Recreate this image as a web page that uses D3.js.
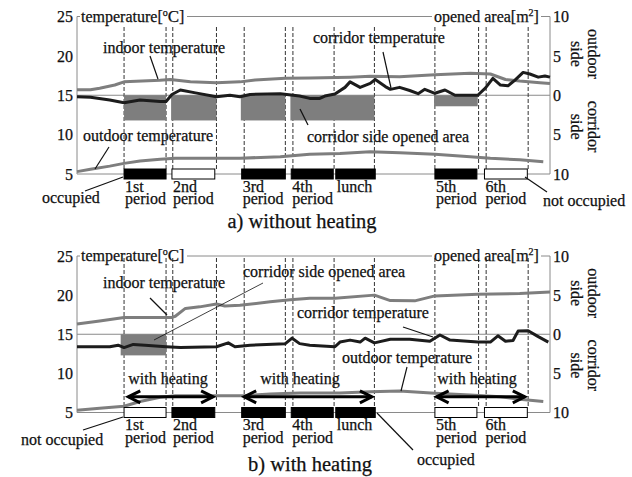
<!DOCTYPE html>
<html>
<head>
<meta charset="utf-8">
<script src="https://cdn.jsdelivr.net/npm/d3@7"></script>
<style>
  body { margin: 0; background: #fff; }
  svg text { font-family: "Liberation Serif", Tinos, "Times New Roman", serif; font-size: 16px; fill: #111;
             stroke: #111; stroke-width: 0.25px; }
</style>
</head>
<body>
<div id="chart"></div>
<script>
// x is minutes after the logger started (about 8:00), temps in degC, opened area in m2
var periodNames = [["1st", "period"], ["2nd", "period"], ["3rd", "period"], ["4th", "period"], ["lunch"], ["5th", "period"], ["6th", "period"]];
var periodStart = [56, 113, 196, 255, 308, 426, 485];
var periodEnd   = [106, 164, 248, 305, 355, 476, 536];
var dividers    = [56, 106, 114, 166, 199, 248, 257, 306, 354, 426, 478, 487, 537];
var occupiedA   = [1, 0, 1, 1, 1, 1, 0];
var occupiedB   = [0, 1, 1, 1, 1, 0, 0];

var tempTicks = [25, 20, 15, 10, 5];
var areaTicks = [10, 5, 0, -5, -10];   // negative = corridor side

// a) without heating
var indoorA = [[0,15.7],[16,15.7],[27,15.9],[45,16.3],[56,16.7],[99,16.9],[111,17.0],[135,16.7],[166,16.6],
  [194,16.7],[212,16.95],[248,17.15],[277,17.2],[325,17.3],[349,17.4],[384,17.35],[426,17.6],[468,17.8],
  [492,17.7],[510,17.0],[527,16.8],[551,16.6],[563,16.5]];
var corridorA = [[0,14.8],[16,14.75],[39,14.4],[56,14.05],[75,14.4],[99,14.2],[106,14.2],[113,15.1],[123,15.67],
  [141,15.3],[166,14.8],[182,15.0],[194,14.8],[206,15.1],[242,15.2],[265,14.9],[277,14.6],[289,14.6],[295,14.9],
  [307,15.16],[319,16.0],[325,16.7],[337,16.0],[349,16.5],[355,17.0],[367,16.1],[373,15.75],[384,16.0],[396,15.6],
  [406,15.2],[414,15.75],[426,15.25],[438,15.67],[450,15.0],[477,15.0],[486,15.9],[495,17.15],[504,16.3],
  [513,16.2],[521,16.9],[531,17.9],[539,17.7],[549,17.3],[557,17.45],[563,17.3]];
var outdoorA = [[0,5.3],[16,5.6],[39,6.0],[56,6.35],[75,6.65],[99,6.87],[117,7.0],[194,7.0],[242,7.2],[277,7.5],
  [313,7.6],[349,7.83],[384,7.7],[426,7.5],[468,7.2],[492,7.0],[527,6.8],[555,6.55]];
var openStartA = [56, 112, 195, 254, 425];
var openEndA   = [106, 166, 248, 354, 477];
var openAreaA  = [-3.2, -3.2, -3.2, -3.2, -1.4];

// b) with heating
var indoorB = [[0,16.3],[27,16.7],[56,17.15],[113,17.15],[117,17.3],[129,18.3],[146,18.5],[166,18.86],[176,18.6],
  [194,18.7],[230,19.15],[254,19.4],[277,19.6],[307,19.6],[354,20.0],[373,19.3],[402,19.27],[426,19.9],
  [477,20.1],[527,20.2],[563,20.4]];
var corridorB = [[0,13.4],[39,13.4],[49,13.6],[56,13.3],[67,13.7],[81,13.6],[106,13.4],[123,13.3],[166,13.4],
  [180,13.9],[188,13.4],[206,13.6],[248,13.8],[256,14.5],[265,13.8],[277,13.6],[307,13.4],[313,14.0],[325,14.25],
  [337,14.0],[343,14.5],[354,13.9],[373,14.35],[396,14.35],[420,14.1],[432,14.9],[444,14.25],[477,14.0],
  [492,14.0],[501,14.8],[510,14.1],[519,14.2],[525,15.4],[537,15.45],[549,14.7],[561,14.0]];
var outdoorB = [[0,5.3],[27,5.55],[56,5.8],[75,6.4],[99,6.95],[117,7.15],[199,7.15],[230,7.36],[265,7.5],[313,7.5],
  [349,7.65],[384,7.75],[426,7.45],[468,7.23],[504,7.0],[527,6.7],[555,6.4]];
var openStartB = [52];
var openEndB   = [106];
var openAreaB  = [-2.7];
var heatStart = [61, 199, 428];
var heatEnd   = [162, 351, 533];

var W = 632, H = 477;
var FONT = "'Liberation Serif', Tinos, 'Times New Roman', serif";
var svg = d3.select("#chart").append("svg").attr("width", W).attr("height", H)
  .attr("font-family", FONT);
var x = d3.scaleLinear().domain([0, 563]).range([77, 550]);

var GRAY = "#7e7e7e", DARK = "#1c1c1c", FRAME = "#8a8a8a";

function leader(g, x1, y1, x2, y2, w) {
  g.append("line").attr("x1", x1).attr("y1", y1).attr("x2", x2).attr("y2", y2)
    .attr("stroke", "#111").attr("stroke-width", w || 1.2);
}

function label(g, txt, tx, ty, anchor, size) {
  return g.append("text").attr("x", tx).attr("y", ty)
    .attr("text-anchor", anchor || "start")
    .style("font-size", (size || 16) + "px").text(txt);
}

function drawPanel(cfg) {
  var g = svg.append("g");
  var y = d3.scaleLinear().domain([5, 25]).range([cfg.bottom, cfg.top]);
  var ya = d3.scaleLinear().domain([-10, 10]).range([cfg.bottom, cfg.top]);
  var line = d3.line().x(function(d) { return x(d[0]); }).y(function(d) { return y(d[1]); });

  // 0 m2 / 15 degC reference line
  g.append("line").attr("x1", x(0)).attr("x2", x(563)).attr("y1", ya(0)).attr("y2", ya(0))
    .attr("stroke", FRAME).attr("stroke-width", 1);

  // period boundaries
  g.selectAll(".div").data(dividers).enter().append("line")
    .attr("x1", function(d) { return x(d); }).attr("x2", function(d) { return x(d); })
    .attr("y1", cfg.dashTop).attr("y2", y(5) - 5)
    .attr("stroke", "#333").attr("stroke-width", 1).attr("stroke-dasharray", "4,2");

  // opened area bars (corridor side goes down)
  g.selectAll(".open").data(cfg.openArea).enter().append("rect")
    .attr("x", function(d, i) { return x(cfg.openStart[i]); })
    .attr("width", function(d, i) { return x(cfg.openEnd[i]) - x(cfg.openStart[i]); })
    .attr("y", function(d) { return Math.min(ya(0), ya(d)); })
    .attr("height", function(d) { return Math.abs(ya(d) - ya(0)); })
    .attr("fill", GRAY);

  // frame
  g.append("line").attr("x1", x(0)).attr("x2", x(563)).attr("y1", y(5)).attr("y2", y(5)).attr("stroke", FRAME);
  g.append("path").attr("d", "M" + x(0) + "," + y(5) + "V" + y(25) + "H" + 80).attr("fill", "none").attr("stroke", FRAME);
  g.append("path").attr("d", "M" + 187 + "," + y(25) + "H" + 432).attr("fill", "none").attr("stroke", FRAME);
  g.append("path").attr("d", "M" + 541 + "," + y(25) + "H" + x(563) + "V" + y(5)).attr("fill", "none").attr("stroke", FRAME);

  // temperature lines
  [[cfg.outdoor, GRAY], [cfg.indoor, GRAY], [cfg.corridor, DARK]].forEach(function(s) {
    g.append("path").datum(s[0]).attr("d", line).attr("fill", "none")
      .attr("stroke", s[1]).attr("stroke-width", 3).attr("stroke-linejoin", "round");
  });

  // axes
  var ax = g.append("g").attr("transform", "translate(" + x(0) + ",0)")
    .call(d3.axisLeft(y).tickValues(tempTicks).tickSize(0).tickPadding(4));
  ax.select(".domain").remove();
  var axr = g.append("g").attr("transform", "translate(" + x(563) + ",0)")
    .call(d3.axisRight(ya).tickValues(areaTicks).tickSize(0).tickPadding(3).tickFormat(function(d) { return Math.abs(d); }));
  axr.select(".domain").remove();
  g.selectAll(".tick text").attr("fill", "#111");

  var t1 = g.append("text").attr("x", 81).attr("y", y(25) + 5);
  t1.append("tspan").text("temperature[");
  t1.append("tspan").attr("dy", -6).style("font-size", "10px").text("o");
  t1.append("tspan").attr("dy", 6).style("font-size", "17px").text("C");
  t1.append("tspan").text("]");
  var t2 = g.append("text").attr("x", 434).attr("y", y(25) + 5);
  t2.append("tspan").text("opened area[m");
  t2.append("tspan").attr("dy", -6).style("font-size", "10px").text("2");
  t2.append("tspan").attr("dy", 6).text("]");

  // rotated side labels
  [["outdoor", 588, ya(5) - 2], ["side", 571, ya(5) - 2], ["corridor", 588, ya(-5) - 8], ["side", 571, ya(-5) - 8]].forEach(function(r) {
    g.append("text").attr("transform", "translate(" + r[1] + "," + r[2] + ") rotate(90)")
      .attr("text-anchor", "middle").text(r[0]);
  });

  // occupied / not occupied periods
  g.selectAll(".per").data(cfg.occupied).enter().append("rect")
    .attr("x", function(d, i) { return x(periodStart[i]); })
    .attr("width", function(d, i) { return x(periodEnd[i]) - x(periodStart[i]); })
    .attr("y", y(5) - 5).attr("height", 10)
    .attr("fill", function(d) { return d ? "#000" : "#fff"; })
    .attr("stroke", "#000").attr("stroke-width", 1);

  periodNames.forEach(function(p, i) {
    var t = g.append("text").attr("x", x(periodStart[i]) + 1).attr("y", y(5) + 17.5);
    p.forEach(function(s, j) {
      t.append("tspan").attr("x", x(periodStart[i]) + 1).attr("dy", j ? 12.5 : 0).text(s);
    });
  });
  return {g: g, y: y};
}

// ---- a) without heating
var pa = drawPanel({top: 16.5, bottom: 174, dashTop: 27, indoor: indoorA, corridor: corridorA, outdoor: outdoorA,
  openStart: openStartA, openEnd: openEndA, openArea: openAreaA, occupied: occupiedA});
var ga = pa.g;
label(ga, "indoor temperature", 103, 53);        leader(ga, 150, 56, 158, 79);
label(ga, "corridor temperature", 313, 43);      leader(ga, 383, 52, 391, 88);
label(ga, "corridor side opened area", 307, 142); leader(ga, 300, 109, 308, 125);
label(ga, "outdoor temperature", 83, 141);       leader(ga, 109, 147, 95, 169);
label(ga, "occupied", 42, 203);                  leader(ga, 85, 191, 123, 177);
label(ga, "not occupied", 543, 206);             leader(ga, 525, 177, 547, 192);
label(ga, "a) without heating", 302, 228, "middle", 20.5);

// ---- b) with heating
var pb = drawPanel({top: 256, bottom: 412.5, dashTop: 258, indoor: indoorB, corridor: corridorB, outdoor: outdoorB,
  openStart: openStartB, openEnd: openEndB, openArea: openAreaB, occupied: occupiedB});
var gb = pb.g, yb = pb.y;

heatStart.forEach(function(s, i) {
  var x1 = x(s), x2 = x(heatEnd[i]), yy = yb(7.0);
  gb.append("line").attr("x1", x1).attr("x2", x2).attr("y1", yy).attr("y2", yy)
    .attr("stroke", "#000").attr("stroke-width", 3);
  gb.append("path").attr("d", "M" + (x1 + 12) + "," + (yy - 6) + "L" + x1 + "," + yy + "L" + (x1 + 12) + "," + (yy + 6) +
      "M" + (x2 - 12) + "," + (yy - 6) + "L" + x2 + "," + yy + "L" + (x2 - 12) + "," + (yy + 6))
    .attr("fill", "none").attr("stroke", "#000").attr("stroke-width", 3);
});
label(gb, "with heating", 168, 384, "middle");
label(gb, "with heating", 300, 384, "middle");
label(gb, "with heating", 477, 384, "middle");

label(gb, "indoor temperature", 103, 288);          leader(gb, 150, 298, 167, 315);
label(gb, "corridor side opened area", 243, 277);  leader(gb, 263, 283, 154, 340, 0.8);
label(gb, "corridor temperature", 297, 318);        leader(gb, 403, 327, 433, 337);
label(gb, "outdoor temperature", 342, 363);         leader(gb, 407, 367, 401, 391);
label(gb, "not occupied", 21, 445);                 leader(gb, 83, 430, 123, 417);
label(gb, "occupied", 417, 465);                    leader(gb, 377, 413, 413, 450);
label(gb, "b) with heating", 310, 471, "middle", 20.5);
</script>
</body>
</html>
